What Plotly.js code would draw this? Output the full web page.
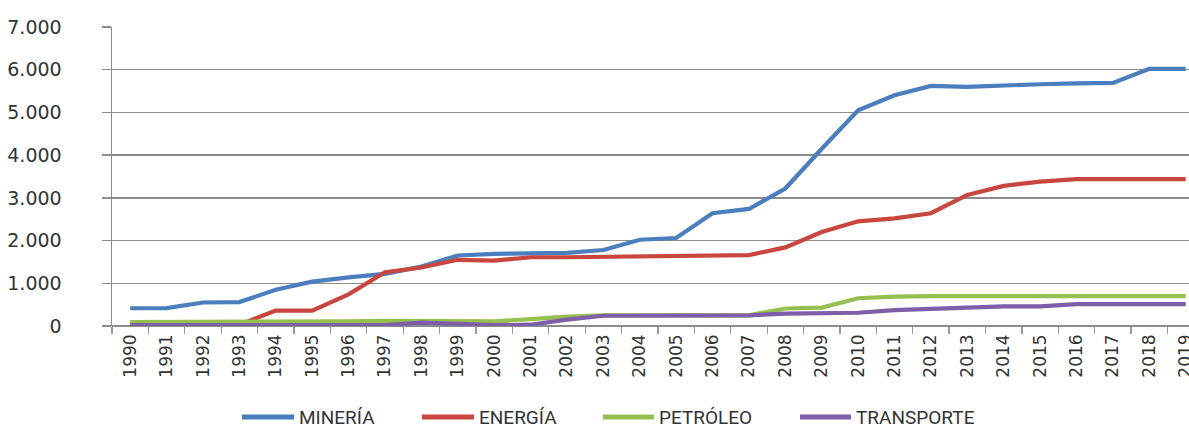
<!DOCTYPE html>
<html>
<head>
<meta charset="utf-8">
<script src="https://cdn.plot.ly/plotly-3.0.1.min.js"></script>
<style>
  html, body { margin: 0; padding: 0; background: #ffffff; }
  #chart { width: 1189px; height: 427px; }
</style>
</head>
<body>
<div id="chart"></div>
<script>
// ---- data ----
var years = ["1990","1991","1992","1993","1994","1995","1996","1997","1998","1999",
             "2000","2001","2002","2003","2004","2005","2006","2007","2008","2009",
             "2010","2011","2012","2013","2014","2015","2016","2017","2018","2019"];
var mineria    = [415, 420, 550, 560, 850, 1040, 1140, 1220, 1390, 1650,
                  1690, 1700, 1710, 1780, 2020, 2060, 2640, 2740, 3220, 4150,
                  5050, 5400, 5620, 5600, 5640, 5660, 5680, 5690, 6020, 6020];
var energia    = [30, 30, 30, 30, 360, 360, 740, 1260, 1370, 1550,
                  1530, 1610, 1610, 1620, 1630, 1630, 1650, 1660, 1840, 2200,
                  2450, 2520, 2640, 3070, 3280, 3380, 3440, 3440, 3440, 3440];
var petroleo   = [90, 90, 90, 90, 90, 100, 110, 120, 120, 110,
                  110, 160, 220, 250, 250, 250, 250, 250, 410, 430,
                  650, 690, 700, 700, 700, 700, 700, 700, 700, 700];
var transporte = [20, 20, 20, 20, 20, 20, 20, 20, 80, 40,
                  20, 30, 150, 240, 240, 250, 250, 250, 290, 300,
                  310, 370, 400, 420, 460, 460, 510, 510, 510, 510];
var seriesNames = ["MINERÍA", "ENERGÍA", "PETRÓLEO", "TRANSPORTE"];
var yTickVals = [0, 1000, 2000, 3000, 4000, 5000, 6000, 7000];
var yTickText = ["0", "1.000", "2.000", "3.000", "4.000", "5.000", "6.000", "7.000"];

// ---- styling ----
var colors = ["#4a7ebf", "#c9463f", "#97bf4f", "#7d5ea8"];
var seriesValues = [mineria, energia, petroleo, transporte];

var traces = seriesValues.map(function (vals, i) {
  return {
    type: "scatter",
    mode: "lines",
    name: seriesNames[i],
    x: years,
    y: vals,
    line: { color: colors[i], width: 4.2 },
    hoverinfo: "x+y+name"
  };
});

// manual legend (line samples + labels), pixel positions -> paper coords
var mL = 112, mT = 27, mB = 101, W = 1189, H = 427;
var pw = W - mL, ph = H - mT - mB;
function px(x) { return (x - mL) / pw; }
function py(y) { return (H - mB - y) / ph; }
var legendItems = [
  { x0: 242, x1: 294, tx: 297 },
  { x0: 422, x1: 474, tx: 477 },
  { x0: 603, x1: 654, tx: 657 },
  { x0: 800, x1: 851, tx: 854 }
];
var legendY = 417;
var shapes = [];
var annotations = [];
legendItems.forEach(function (it, i) {
  shapes.push({
    type: "line", xref: "paper", yref: "paper",
    x0: px(it.x0), x1: px(it.x1), y0: py(legendY), y1: py(legendY),
    line: { color: colors[i], width: 5 }
  });
  annotations.push({
    xref: "paper", yref: "paper",
    x: px(it.tx), y: py(legendY),
    xanchor: "left", yanchor: "middle",
    height: 30,
    valign: "middle",
    text: seriesNames[i], showarrow: false,
    font: { family: "Roboto, sans-serif", size: 19, color: "#333333" }
  });
});

var layout = {
  width: W, height: H,
  margin: { l: mL, r: 0, t: mT, b: mB, pad: 0 },
  paper_bgcolor: "#ffffff",
  plot_bgcolor: "#ffffff",
  showlegend: false,
  xaxis: {
    type: "category",
    range: [-0.5, 29.09],
    tickangle: -90,
    ticks: "outside",
    tickson: "boundaries",
    ticklen: 7,
    tickwidth: 1.3,
    tickcolor: "#9a9a9a",
    showgrid: false,
    showline: false,
    zeroline: false,
    ticklabelstandoff: 4,
    tickfont: { family: "DejaVu Sans, sans-serif", size: 17, color: "#333333" },
    fixedrange: true
  },
  yaxis: {
    range: [0, 7000],
    tickvals: yTickVals,
    ticktext: yTickText,
    ticks: "outside",
    ticklen: 9,
    tickwidth: 1.5,
    tickcolor: "#8c8c8c",
    showgrid: true,
    gridcolor: "#8c8c8c",
    gridwidth: 1.5,
    showline: true,
    linecolor: "#8c8c8c",
    linewidth: 1.5,
    zeroline: true,
    zerolinecolor: "#8c8c8c",
    zerolinewidth: 1.5,
    ticklabelstandoff: 36,
    tickfont: { family: "DejaVu Sans, sans-serif", size: 19, color: "#333333" },
    fixedrange: true
  },
  shapes: shapes,
  annotations: annotations
};

Plotly.newPlot("chart", traces, layout, { displayModeBar: false, staticPlot: true });
</script>
</body>
</html>
